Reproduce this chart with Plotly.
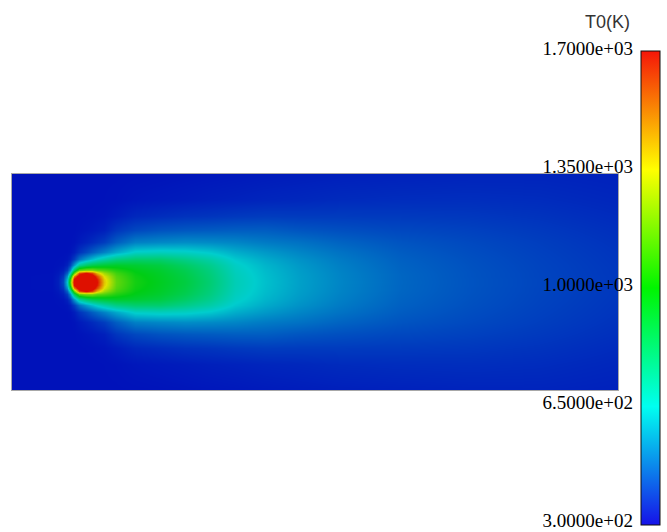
import plotly.graph_objects as go

# ---- data ----------------------------------------------------------------
# streamwise positions of sampled columns (domain length 606 units)
x_pos = [0, 40, 46, 51, 55, 58, 62, 67, 74, 80, 85, 92, 104, 123, 148, 173,
         198, 223, 253, 288, 328, 388, 458, 528, 606]
# distance from the centre line of sampled rows (domain half height 108)
y_off = [0, 3, 6, 9, 12, 17, 23, 30, 40, 52, 66, 82, 108]

# temperature T0 (K) of each column, listed from the centre line outwards
T_cols = [
    [300, 300, 300, 300, 300, 300, 300, 300, 300, 300, 300, 300, 300],
    [302, 302, 302, 301, 300, 300, 300, 300, 300, 300, 300, 300, 300],
    [325, 323, 319, 313, 308, 303, 301, 300, 300, 300, 300, 300, 300],
    [400, 390, 370, 345, 325, 308, 302, 300, 300, 300, 300, 300, 300],
    [640, 610, 540, 450, 380, 330, 308, 301, 300, 300, 300, 300, 300],
    [1100, 1040, 880, 680, 520, 390, 325, 304, 300, 300, 300, 300, 300],
    [1780, 1720, 1500, 1150, 860, 560, 380, 320, 303, 300, 300, 300, 300],
    [1950, 1920, 1820, 1600, 1150, 760, 480, 360, 315, 303, 300, 300, 300],
    [1950, 1930, 1850, 1720, 1200, 850, 560, 400, 330, 308, 301, 300, 300],
    [1900, 1880, 1800, 1620, 1200, 900, 620, 440, 345, 312, 302, 300, 300],
    [1700, 1680, 1590, 1420, 1150, 920, 670, 470, 360, 318, 304, 300, 300],
    [1400, 1385, 1340, 1250, 1120, 940, 720, 510, 380, 325, 306, 301, 300],
    [1150, 1145, 1130, 1100, 1050, 960, 790, 580, 440, 365, 318, 303, 300],
    [1030, 1027, 1020, 1008, 990, 945, 830, 665, 505, 400, 340, 310, 301],
    [975, 972, 968, 960, 948, 915, 830, 680, 520, 420, 350, 315, 303],
    [915, 912, 906, 897, 885, 850, 780, 670, 530, 430, 360, 320, 306],
    [820, 818, 813, 806, 797, 772, 722, 640, 525, 435, 365, 326, 309],
    [695, 694, 691, 687, 681, 668, 640, 590, 515, 440, 372, 330, 312],
    [625, 624, 622, 619, 615, 605, 585, 552, 495, 440, 378, 336, 316],
    [565, 564, 563, 561, 558, 551, 538, 515, 478, 425, 376, 340, 320],
    [515, 514, 513, 512, 509, 504, 495, 480, 452, 414, 376, 346, 324],
    [458, 457, 457, 456, 454, 451, 446, 438, 423, 400, 374, 350, 328],
    [422, 422, 421, 421, 420, 418, 415, 410, 402, 388, 370, 352, 332],
    [395, 395, 394, 394, 393, 392, 390, 387, 382, 373, 361, 348, 333],
    [370, 370, 370, 369, 369, 368, 366, 364, 360, 354, 346, 338, 328],
]

T_min, T_max = 300, 1700
tick_vals = [300, 650, 1000, 1350, 1700]
tick_text = [f"{v:.4e}" for v in tick_vals]
cbar_title = "T0(K)"

# ---- build the symmetric grid (mirror about the centre line) -------------
y_full = [-v for v in reversed(y_off[1:])] + y_off
z = []
for yv in y_full:
    k = y_off.index(abs(yv))
    z.append([col[k] for col in T_cols])

# colour map as rendered in the (shaded) domain and on the legend bar
domain_scale = [[0.0, "rgb(0,18,186)"], [0.25, "rgb(0,205,205)"],
                [0.5, "rgb(0,205,20)"], [0.75, "rgb(225,225,0)"],
                [1.0, "rgb(222,16,0)"]]
bar_scale = [[0.0, "rgb(22,18,232)"], [0.25, "rgb(0,255,240)"],
             [0.5, "rgb(0,245,0)"], [0.75, "rgb(255,255,0)"],
             [1.0, "rgb(245,22,8)"]]

W, H = 667, 532
BAR_X, BAR_TOP, BAR_BOT = 641, 51, 525      # colour bar box
LAB_TOP, LAB_BOT = 48, 521                   # extent of the label scale

fig = go.Figure()
fig.add_trace(go.Heatmap(
    x=x_pos, y=y_full, z=z, zmin=T_min, zmax=T_max,
    colorscale=domain_scale, zsmooth="best", showscale=False,
    hoverinfo="skip"))

# colour bar (labels come from the scale axis y2 placed at its left side)
fig.add_trace(go.Scatter(
    x=[None], y=[None], yaxis="y2", mode="markers", showlegend=False,
    hoverinfo="skip",
    marker=dict(color=[T_min], cmin=T_min, cmax=T_max, colorscale=bar_scale,
                showscale=True,
                colorbar=dict(
                    x=BAR_X / W, xanchor="left", xpad=0, ypad=0,
                    y=(H - (BAR_TOP + BAR_BOT) / 2) / H, yanchor="middle",
                    lenmode="pixels", len=BAR_BOT - BAR_TOP, thickness=19,
                    outlinewidth=1, outlinecolor="#111111",
                    ticks="", showticklabels=False))))

fig.add_annotation(
    text=cbar_title, xref="paper", yref="paper",
    x=632 / W, xanchor="right", y=(H - 22) / H, yanchor="middle",
    showarrow=False, font=dict(family="Liberation Sans", size=18,
                               color="#333333"))

axis_common = dict(showgrid=False, zeroline=False, showticklabels=False,
                   ticks="", showline=True, mirror=True,
                   linecolor="#a8a8a8", linewidth=1)
fig.update_layout(
    width=W, height=H, paper_bgcolor="white", plot_bgcolor="rgba(0,0,0,0)",
    margin=dict(l=0, r=0, t=0, b=0, autoexpand=False),
    xaxis=dict(range=[0, 606], domain=[12 / W, 618 / W], **axis_common),
    yaxis=dict(range=[-108, 108], domain=[(H - 390) / H, (H - 174) / H],
               **axis_common),
    yaxis2=dict(range=[T_min - 1, T_max + 1], anchor="free",
                position=BAR_X / W, side="left",
                domain=[(H - LAB_BOT) / H, (H - LAB_TOP) / H],
                showgrid=False, zeroline=False, showline=False, ticks="",
                tickvals=tick_vals, ticktext=tick_text, ticklabelstandoff=8,
                ticklabeloverflow="allow",
                tickfont=dict(family="Liberation Serif", size=19,
                              color="#000000")),
)

fig.write_html("out.html", config={"displayModeBar": False},
               post_script="document.body.style.margin='0px';")
